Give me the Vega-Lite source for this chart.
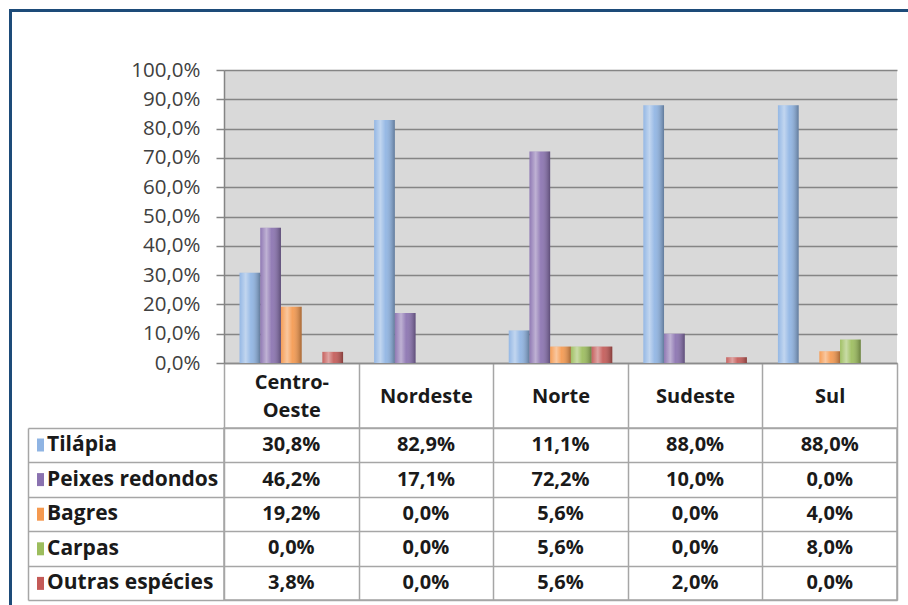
{
  "$schema": "https://vega.github.io/schema/vega-lite/v6.json",
  "padding": {"left": 9, "top": 9, "right": 0, "bottom": 0},
  "background": "white",
  "config": {
    "font": "Open Sans",
    "locale": {"number": {"decimal": ",", "thousands": ".", "grouping": [3], "currency": ["R$", ""]}},
    "view": {"stroke": null},
    "legend": {"strokeWidth": 3}
  },
  "datasets": {
    "d": [
      {"regiao": "Centro-Oeste", "especie": "Tilápia", "valor": 0.308},
      {"regiao": "Centro-Oeste", "especie": "Peixes redondos", "valor": 0.462},
      {"regiao": "Centro-Oeste", "especie": "Bagres", "valor": 0.192},
      {"regiao": "Centro-Oeste", "especie": "Carpas", "valor": 0.0},
      {"regiao": "Centro-Oeste", "especie": "Outras espécies", "valor": 0.038},
      {"regiao": "Nordeste", "especie": "Tilápia", "valor": 0.829},
      {"regiao": "Nordeste", "especie": "Peixes redondos", "valor": 0.171},
      {"regiao": "Nordeste", "especie": "Bagres", "valor": 0.0},
      {"regiao": "Nordeste", "especie": "Carpas", "valor": 0.0},
      {"regiao": "Nordeste", "especie": "Outras espécies", "valor": 0.0},
      {"regiao": "Norte", "especie": "Tilápia", "valor": 0.111},
      {"regiao": "Norte", "especie": "Peixes redondos", "valor": 0.722},
      {"regiao": "Norte", "especie": "Bagres", "valor": 0.056},
      {"regiao": "Norte", "especie": "Carpas", "valor": 0.056},
      {"regiao": "Norte", "especie": "Outras espécies", "valor": 0.056},
      {"regiao": "Sudeste", "especie": "Tilápia", "valor": 0.88},
      {"regiao": "Sudeste", "especie": "Peixes redondos", "valor": 0.10},
      {"regiao": "Sudeste", "especie": "Bagres", "valor": 0.0},
      {"regiao": "Sudeste", "especie": "Carpas", "valor": 0.0},
      {"regiao": "Sudeste", "especie": "Outras espécies", "valor": 0.02},
      {"regiao": "Sul", "especie": "Tilápia", "valor": 0.88},
      {"regiao": "Sul", "especie": "Peixes redondos", "valor": 0.0},
      {"regiao": "Sul", "especie": "Bagres", "valor": 0.04},
      {"regiao": "Sul", "especie": "Carpas", "valor": 0.08},
      {"regiao": "Sul", "especie": "Outras espécies", "valor": 0.0}
    ]
  },
  "vconcat": [
    {
      "width": 673,
      "height": 293,
      "view": {"fill": "#d9d9d9", "stroke": null},
      "data": {"name": "d"},
      "encoding": {
        "x": {
          "field": "regiao", "type": "nominal", "sort": ["Centro-Oeste", "Nordeste", "Norte", "Sudeste", "Sul"],
          "scale": {"paddingInner": 0, "paddingOuter": 0},
          "axis": {
            "title": null, "grid": false, "tickBand": "extent", "tickSize": 65, "tickColor": "#a6a6a6", "tickWidth": 1.5,
            "domainColor": "#8c8c8c", "domainWidth": 1.5, "labelAngle": 0, "labelFontSize": 20, "labelFontWeight": "bold",
            "labelColor": "#1a1a1a", "labelPadding": -46, "labelLineHeight": 28,
            "labelBaseline": {"condition": {"test": "datum.value == 'Centro-Oeste'", "value": "middle"}, "value": "line-top"},
            "labelExpr": "datum.value == 'Centro-Oeste' ? ['Centro-', 'Oeste'] : datum.label"
          }
        },
        "xOffset": {
          "field": "especie", "type": "nominal", "sort": ["Tilápia", "Peixes redondos", "Bagres", "Carpas", "Outras espécies"],
          "scale": {"paddingInner": 0, "paddingOuter": 0.75}
        },
        "y": {
          "field": "valor", "type": "quantitative", "scale": {"domain": [0, 1]},
          "axis": {
            "title": null, "format": ".1%", "values": [0, 0.1, 0.2, 0.3, 0.4, 0.5, 0.6, 0.7, 0.8, 0.9, 1],
            "grid": true, "gridColor": "#858585", "gridWidth": 1.6, "domainColor": "#858585", "domainWidth": 1.5,
            "tickColor": "#858585", "tickSize": 8, "tickWidth": 1.5, "labelFontSize": 20.5, "labelColor": "#404040", "labelPadding": 16
          }
        }
      },
      "layer": [
        {
          "mark": {"type": "bar"},
          "encoding": {
            "color": {
              "field": "especie", "type": "nominal",
              "scale": {
                "domain": ["Tilápia", "Peixes redondos", "Bagres", "Carpas", "Outras espécies"],
                "range": ["#8fb4e3", "#8a72b0", "#f5994f", "#9cbd5d", "#c45a57"]
              },
              "legend": {
                "orient": "none", "legendX": -194, "legendY": 364.5, "title": null, "padding": 0,
                "symbolType": "M-0.54,-1H0.54V1H-0.54Z", "symbolSize": 169, "symbolStrokeWidth": 0,
                "labelFontSize": 21, "labelFontWeight": "bold", "labelColor": "#1a1a1a", "labelOffset": -4,
                "rowPadding": 12.6, "labelLimit": 300
              }
            }
          }
        },
        {
          "mark": {
            "type": "bar",
            "fill": {
              "gradient": "linear", "x1": 0, "x2": 1, "y1": 0, "y2": 0,
              "stops": [
                {"offset": 0, "color": "rgba(255,255,255,0.05)"},
                {"offset": 0.3, "color": "rgba(255,255,255,0.45)"},
                {"offset": 0.55, "color": "rgba(255,255,255,0.08)"},
                {"offset": 1, "color": "rgba(0,0,0,0.32)"}
              ]
            }
          },
          "encoding": {
            "strokeDash": {
              "datum": "m",
              "legend": {
                "orient": "none", "legendX": -213.5, "legendY": -59.5, "title": null, "padding": 297,
                "strokeColor": "#1d4b79", "symbolSize": 16, "symbolOpacity": 0,
                "labelOpacity": 0, "labelFontSize": 4, "labelOffset": 312, "labelExpr": "''"
              }
            }
          }
        }
      ]
    },
    {
      "width": 673,
      "height": 172,
      "view": {"stroke": "#a6a6a6", "strokeWidth": 1.5},
      "data": {"name": "d"},
      "mark": {"type": "text", "fontSize": 20, "fontWeight": "bold", "color": "#1a1a1a"},
      "encoding": {
        "x": {
          "field": "regiao", "type": "nominal", "sort": ["Centro-Oeste", "Nordeste", "Norte", "Sudeste", "Sul"],
          "scale": {"paddingInner": 0, "paddingOuter": 0},
          "axis": {"title": null, "labels": false, "ticks": false, "domain": false, "grid": true, "tickBand": "extent", "gridColor": "#a6a6a6", "gridWidth": 1.5}
        },
        "y": {
          "field": "especie", "type": "nominal", "sort": ["Tilápia", "Peixes redondos", "Bagres", "Carpas", "Outras espécies"],
          "scale": {"paddingInner": 0, "paddingOuter": 0},
          "axis": {
            "title": null, "labels": false, "offset": 196, "ticks": true, "tickSize": -196, "tickBand": "extent",
            "tickColor": "#a6a6a6", "tickWidth": 1.5, "domain": true, "domainColor": "#a6a6a6", "domainWidth": 1.5,
            "grid": true, "gridColor": "#a6a6a6", "gridWidth": 1.5
          }
        },
        "text": {"field": "valor", "type": "quantitative", "format": ".1%"}
      }
    }
  ],
  "spacing": 65,
  "bounds": "flush"
}
